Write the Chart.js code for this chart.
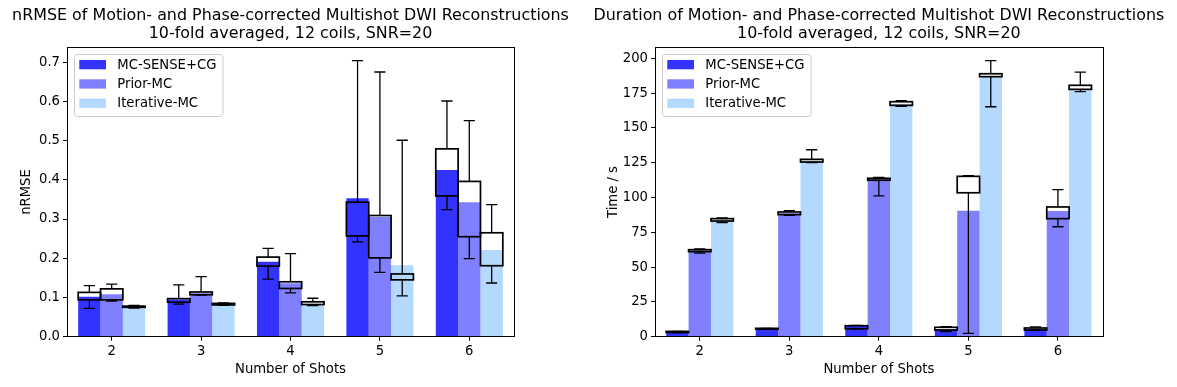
<!DOCTYPE html>
<html>
<head>
<meta charset="utf-8">
<script src="https://cdn.jsdelivr.net/npm/chart.js@4.4.1/dist/chart.umd.min.js"></script>
<style>
  body { margin: 0; background: #fff; }
  #wrap { position: relative; width: 1177px; height: 387px; }
  #izq { position: absolute; left: 0; top: 0; }
  #der { position: absolute; left: 588px; top: 0; }
</style>
</head>
<body>
<div id="wrap">
  <canvas id="izq" width="588" height="387"></canvas>
  <canvas id="der" width="589" height="387"></canvas>
</div>
<script>
// datos comunes
const shots = ['2', '3', '4', '5', '6']
const methods = ['MC-SENSE+CG', 'Prior-MC', 'Iterative-MC']
const methodColors = ['rgb(51, 51, 255)', 'rgb(128, 128, 255)', 'rgb(179, 217, 255)']

// nRMSE: barras (media) y cajas por metodo
const nrmseBars = [
	[0.102, 0.095, 0.191, 0.353, 0.425],
	[0.108, 0.111, 0.136, 0.305, 0.343],
	[0.078, 0.083, 0.084, 0.182, 0.221]
]
const nrmseQ1 = [
	[0.094, 0.088, 0.180, 0.257, 0.359],
	[0.094, 0.107, 0.123, 0.201, 0.255],
	[0.075, 0.081, 0.082, 0.145, 0.181]
]
const nrmseQ3 = [
	[0.113, 0.097, 0.203, 0.343, 0.479],
	[0.122, 0.114, 0.140, 0.309, 0.396],
	[0.078, 0.085, 0.089, 0.160, 0.265]
]
const nrmseLow = [
	[0.072, 0.083, 0.147, 0.242, 0.324],
	[0.091, 0.106, 0.112, 0.164, 0.199],
	[0.073, 0.080, 0.079, 0.104, 0.137]
]
const nrmseHigh = [
	[0.130, 0.132, 0.225, 0.704, 0.601],
	[0.134, 0.153, 0.212, 0.675, 0.551],
	[0.080, 0.086, 0.098, 0.501, 0.337]
]
const nrmseTicks = [0.0, 0.1, 0.2, 0.3, 0.4, 0.5, 0.6, 0.7]

// Duracion en segundos
const timeBars = [
	[3.4, 5.7, 7.7, 5.3, 5.5],
	[61.6, 88.6, 113.1, 90.5, 90.3],
	[83.6, 126.4, 167.4, 187.3, 177.7]
]
const timeQ1 = [
	[3.0, 5.5, 5.7, 4.8, 4.8],
	[61.1, 87.7, 112.4, 103.4, 84.8],
	[83.1, 125.5, 166.2, 186.8, 177.7]
]
const timeQ3 = [
	[3.8, 6.0, 7.9, 6.75, 6.25],
	[62.5, 89.6, 113.8, 115.2, 93.2],
	[84.8, 127.4, 168.8, 188.9, 180.6]
]
const timeLow = [
	[3.0, 5.5, 5.7, 3.6, 4.8],
	[60.0, 87.2, 101.1, 2.4, 79.0],
	[81.9, 125.0, 165.4, 165.2, 176.0]
]
const timeHigh = [
	[3.8, 6.0, 8.1, 7.2, 7.0],
	[63.0, 90.6, 114.5, 115.7, 105.6],
	[85.3, 134.3, 169.6, 198.3, 190.0]
]
const timeTicks = [0, 25, 50, 75, 100, 125, 150, 175, 200]

const fuente = 'DejaVu Sans'

//Cajas (boxplot) dibujadas sobre las barras
const cajasPlugin = {
	id: 'cajas',
	afterDatasetsDraw(chart, args, opts) {
		const ctx = chart.ctx
		const y = chart.scales.y
		ctx.save()
		ctx.strokeStyle = '#000'
		chart.data.datasets.forEach((ds, i) => {
			const meta = chart.getDatasetMeta(i)
			meta.data.forEach((bar, j) => {
				const w = bar.width
				const x = bar.x
				const q1 = y.getPixelForValue(opts.q1[i][j])
				const q3 = y.getPixelForValue(opts.q3[i][j])
				const lo = y.getPixelForValue(opts.low[i][j])
				const hi = y.getPixelForValue(opts.high[i][j])
				ctx.lineWidth = 1.3
				ctx.beginPath()
				ctx.moveTo(x, q3); ctx.lineTo(x, hi)
				ctx.moveTo(x, q1); ctx.lineTo(x, lo)
				ctx.moveTo(x - w / 4, hi); ctx.lineTo(x + w / 4, hi)
				ctx.moveTo(x - w / 4, lo); ctx.lineTo(x + w / 4, lo)
				ctx.stroke()
				ctx.lineWidth = 1.7
				ctx.strokeRect(x - w / 2, q3, w, q1 - q3)
			})
		})
		ctx.restore()
	}
}

//Marco completo del area
const marcoPlugin = {
	id: 'marco',
	afterDraw(chart) {
		const {ctx, chartArea: a} = chart
		ctx.save()
		ctx.strokeStyle = '#000'
		ctx.lineWidth = 1
		ctx.strokeRect(Math.round(a.left) + 0.5, Math.round(a.top) + 0.5, Math.round(a.right - a.left), Math.round(a.bottom - a.top))
		ctx.restore()
	}
}

//Titulo de dos lineas centrado sobre el area (sin recorte de ancho)
const tituloPlugin = {
	id: 'titulo',
	afterDraw(chart, args, opts) {
		const {ctx, chartArea: a} = chart
		const cx = (a.left + a.right) / 2
		ctx.save()
		ctx.fillStyle = '#000'
		ctx.font = '15.9px "' + fuente + '"'
		ctx.textAlign = 'center'
		ctx.textBaseline = 'middle'
		opts.lineas.forEach((t, i) => ctx.fillText(t, cx, 15.5 + i * 18))
		ctx.restore()
	}
}

//Leyenda dentro del area
const leyendaPlugin = {
	id: 'leyenda',
	afterDraw(chart) {
		const {ctx, chartArea: a} = chart
		const bx = a.left + 7, by = a.top + 6.7, bw = 148.5, bh = 62
		ctx.save()
		ctx.fillStyle = 'rgba(255,255,255,0.8)'
		ctx.strokeStyle = '#cccccc'
		ctx.lineWidth = 1
		ctx.beginPath()
		ctx.roundRect(bx + 0.5, by + 0.5, bw, bh, 3)
		ctx.fill()
		ctx.stroke()
		ctx.font = '13.2px "' + fuente + '"'
		ctx.textBaseline = 'middle'
		chart.data.datasets.forEach((ds, i) => {
			const cy = a.top + 17.4 + i * 19.3
			ctx.fillStyle = ds.backgroundColor
			ctx.fillRect(a.left + 12.3, cy - 4.7, 26.7, 9.3)
			ctx.fillStyle = '#000'
			ctx.fillText(ds.label, a.left + 50.3, cy + 0.5)
		})
		ctx.restore()
	}
}

const crearGrafico = (id, titulo, etiquetaY, barras, cajas, yMax, marcas, formato, tituloYPad, derecha) => {
	let lienzo = document.getElementById(id)
	return new Chart(lienzo, {
		type: 'bar',
		data: {
			labels: shots,
			datasets: methods.map((m, i) => ({
				label: m,
				data: barras[i],
				backgroundColor: methodColors[i],
				borderWidth: 0,
				categoryPercentage: 0.75,
				barPercentage: 1.0
			}))
		},
		options: {
			responsive: false,
			animation: false,
			layout: { padding: { left: 0, right: derecha, top: 47.3, bottom: 0 } },
			plugins: {
				legend: { display: false },
				tooltip: { enabled: false },
				title: { display: false },
				titulo: { lineas: titulo },
				cajas: cajas
			},
			scales: {
				x: {
					grid: { offset: false, drawOnChartArea: false, drawTicks: true, tickLength: 4, color: '#000' },
					border: { display: true, color: '#000', width: 1 },
					ticks: { color: '#000', font: { family: fuente, size: 13.2 }, padding: 3 },
					title: { display: true, text: 'Number of Shots', color: '#000', font: { family: fuente, size: 13.2 }, padding: { top: 0, bottom: 9.1 } },
					afterFit: (s) => { s.height = 50.3 }
				},
				y: {
					min: 0,
					max: yMax,
					afterBuildTicks: (s) => { s.ticks = marcas.map(v => ({ value: v })) },
					grid: { drawOnChartArea: false, drawTicks: true, tickLength: 4, color: '#000' },
					border: { display: true, color: '#000', width: 1 },
					ticks: { color: '#000', font: { family: fuente, size: 13.2 }, padding: 3, callback: formato },
					title: { display: true, text: etiquetaY, color: '#000', font: { family: fuente, size: 13.2 }, padding: { top: tituloYPad, bottom: 0 } },
					afterFit: (s) => { s.width = 67 }
				}
			}
		},
		plugins: [cajasPlugin, marcoPlugin, tituloPlugin, leyendaPlugin]
	})
}

crearGrafico('izq',
	['nRMSE of Motion- and Phase-corrected Multishot DWI Reconstructions', '10-fold averaged, 12 coils, SNR=20'],
	'nRMSE', nrmseBars,
	{ q1: nrmseQ1, q3: nrmseQ3, low: nrmseLow, high: nrmseHigh },
	0.738, nrmseTicks, v => Number(v).toFixed(1), 19.1, 74)

crearGrafico('der',
	['Duration of Motion- and Phase-corrected Multishot DWI Reconstructions', '10-fold averaged, 12 coils, SNR=20'],
	'Time / s', timeBars,
	{ q1: timeQ1, q3: timeQ3, low: timeLow, high: timeHigh },
	207.9, timeTicks, v => String(v), 18.1, 74.3)
</script>
</body>
</html>
